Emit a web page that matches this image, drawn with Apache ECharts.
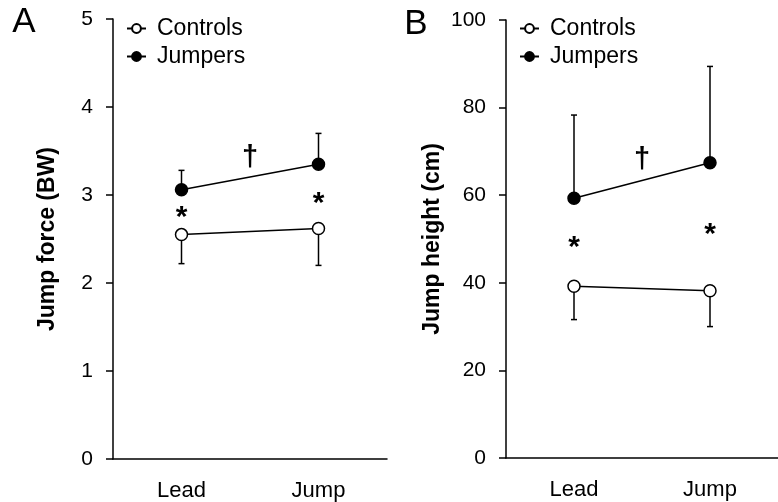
<!DOCTYPE html>
<html>
<head>
<meta charset="utf-8">
<script src="https://cdn.jsdelivr.net/npm/echarts@6/dist/echarts.min.js"></script>
<style>
  html, body { margin: 0; padding: 0; background: #fff; }
  #chart { width: 778px; height: 502px; }
</style>
</head>
<body>
<div id="chart"></div>
<script>
  var categories = ['Lead', 'Jump']

  // panel A, jump force (BW)
  var forceControls = [2.55, 2.62]
  var forceControlsSd = [0.33, 0.42]
  var forceJumpers = [3.06, 3.35]
  var forceJumpersSd = [0.22, 0.35]
  var forceTicks = [0, 1, 2, 3, 4, 5]
  var forceMarks = [[0, 2.74, '*'], [1, 2.9, '*'], [0.5, 3.42, '†']]

  // panel B, jump height (cm)
  var heightControls = [39.2, 38.2]
  var heightControlsSd = [7.6, 8.2]
  var heightJumpers = [59.3, 67.4]
  var heightJumpersSd = [19.0, 22.0]
  var heightTicks = [0, 20, 40, 60, 80, 100]
  var heightMarks = [[0, 48, '*'], [1, 51, '*'], [0.5, 68, '†']]

  var font = 'Liberation Sans, Arial, sans-serif'

  function errorBars(dir) {
    return function (params, api) {
      var v = api.value(1)
      var p0 = api.coord([api.value(0), v])
      var p1 = api.coord([api.value(0), v + dir * api.value(2)])
      var st = { stroke: '#000', lineWidth: 1.5 }
      return {
        type: 'group',
        children: [
          { type: 'line', shape: { x1: p0[0], y1: p0[1], x2: p1[0], y2: p1[1] }, style: st },
          { type: 'line', shape: { x1: p1[0] - 3, y1: p1[1], x2: p1[0] + 3, y2: p1[1] }, style: st }
        ]
      }
    }
  }

  function barData(vals, sds) {
    return categories.map(function (c, i) { return [i, vals[i], sds[i]] })
  }

  function yAxis(grid, ticks, name, gap) {
    return {
      gridIndex: grid,
      type: 'value',
      min: ticks[0],
      max: ticks[ticks.length - 1],
      interval: ticks[1] - ticks[0],
      name: name,
      nameLocation: 'middle',
      nameGap: gap,
      nameTextStyle: { fontFamily: font, fontWeight: 'bold', fontSize: 23, color: '#000' },
      splitLine: { show: false },
      axisLine: { show: true, onZero: false, lineStyle: { color: '#000', width: 1.5 } },
      axisTick: { show: true, length: 7, lineStyle: { color: '#000', width: 1.5 } },
      axisLabel: { fontFamily: font, fontSize: 21, color: '#000', margin: 20 }
    }
  }

  function catAxis(grid) {
    return {
      gridIndex: grid,
      type: 'category',
      data: categories,
      axisLine: { onZero: false, lineStyle: { color: '#000', width: 1.5 } },
      axisTick: { show: false },
      axisLabel: { fontFamily: font, fontSize: 22, color: '#000', margin: 21 }
    }
  }

  function hiddenAxis(grid) {
    return { gridIndex: grid, type: 'value', min: -0.5, max: 1.5, show: false }
  }

  function lineSeries(name, data, xi, yi, fill) {
    return {
      name: name,
      type: 'line',
      xAxisIndex: xi,
      yAxisIndex: yi,
      data: data,
      symbol: 'circle',
      symbolSize: 12,
      z: 5,
      lineStyle: { color: '#000', width: 1.5 },
      itemStyle: { color: fill, borderColor: '#000', borderWidth: 1.5 }
    }
  }

  function barSeries(vals, sds, dir, xi, yi) {
    return {
      type: 'custom',
      xAxisIndex: xi,
      yAxisIndex: yi,
      data: barData(vals, sds),
      renderItem: errorBars(dir),
      z: 2
    }
  }

  function markSeries(marks, xi, yi) {
    return {
      type: 'scatter',
      xAxisIndex: xi,
      yAxisIndex: yi,
      symbol: 'circle',
      symbolSize: 1,
      itemStyle: { color: '#000', opacity: 0 },
      data: marks.map(function (m) {
        var dagger = m[2] !== '*'
        return {
          value: [m[0], m[1]],
          label: {
            formatter: m[2],
            fontSize: dagger ? 29 : 30,
            fontWeight: 'bold'
          }
        }
      }),
      label: {
        show: true,
        position: 'inside',
        fontFamily: font,
        color: '#000',
        opacity: 1,
        textBorderWidth: 0
      },
      z: 6,
      silent: true
    }
  }

  function legend(left) {
    return {
      orient: 'vertical',
      left: left,
      top: 17,
      padding: 0,
      itemWidth: 19,
      itemHeight: 11,
      itemGap: 5,
      data: ['Controls', 'Jumpers'],
      textStyle: { fontFamily: font, fontSize: 23, color: '#000', padding: [0, 0, 0, 6] }
    }
  }

  var chart = echarts.init(document.getElementById('chart'))
  var option = {
    backgroundColor: '#fff',
    animation: false,
    legend: [legend(126), legend(519)],
    graphic: [
      { type: 'text', x: 24, y: 22, style: { text: 'A', fontFamily: font, fontSize: 35, fill: '#000', align: 'center', verticalAlign: 'middle' } },
      { type: 'text', x: 416, y: 24, style: { text: 'B', fontFamily: font, fontSize: 35, fill: '#000', align: 'center', verticalAlign: 'middle' } }
    ],
    grid: [
      { left: 113, width: 274, top: 19, height: 440 },
      { left: 506, width: 272, top: 20, height: 438 }
    ],
    xAxis: [catAxis(0), hiddenAxis(0), catAxis(1), hiddenAxis(1)],
    yAxis: [yAxis(0, forceTicks, 'Jump force (BW)', 54), yAxis(1, heightTicks, 'Jump height (cm)', 62)],
    series: [
      barSeries(forceControls, forceControlsSd, -1, 0, 0),
      barSeries(forceJumpers, forceJumpersSd, 1, 0, 0),
      lineSeries('Controls', forceControls, 0, 0, '#fff'),
      lineSeries('Jumpers', forceJumpers, 0, 0, '#000'),
      markSeries(forceMarks, 1, 0),
      barSeries(heightControls, heightControlsSd, -1, 2, 1),
      barSeries(heightJumpers, heightJumpersSd, 1, 2, 1),
      lineSeries('Controls', heightControls, 2, 1, '#fff'),
      lineSeries('Jumpers', heightJumpers, 2, 1, '#000'),
      markSeries(heightMarks, 3, 1)
    ]
  }
  chart.setOption(option)
</script>
</body>
</html>
